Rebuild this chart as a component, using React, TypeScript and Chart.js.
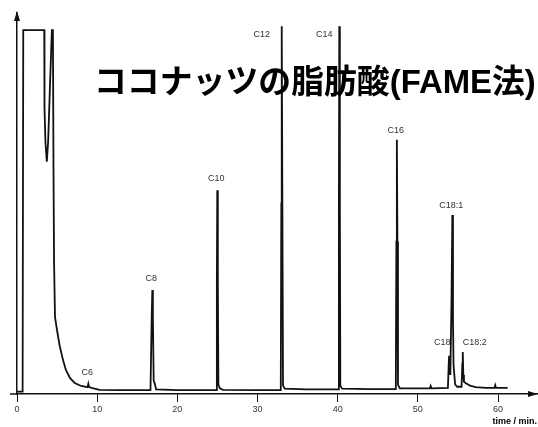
import React, { useEffect, useRef } from "react";
import { Chart, registerables } from "chart.js";

Chart.register(...registerables);

// Chromatogram trace (time in minutes, detector signal in % of full scale)
const TRACE_TIME = [
  0.0, 0.7, 0.78, 3.4, 3.43, 3.55, 3.72, 3.88, 4.1, 4.35, 4.48, 4.55, 4.62, 4.74, 4.99, 5.3, 5.74, 6.1, 6.6, 7.2,
  8.0, 8.8, 8.9, 9.0, 9.3, 10.3, 13.0, 16.65, 16.8, 16.88, 16.95, 17.05, 17.2, 17.35, 20.0, 24.85, 24.93, 24.98,
  25.05, 25.12, 25.3, 25.7, 30.0, 32.9, 32.97, 33.02, 33.1, 33.18, 33.4, 36.0, 40.08, 40.15, 40.2, 40.27, 40.33,
  40.55, 44.0, 47.25, 47.32, 47.38, 47.45, 47.52, 47.75, 51.5, 51.6, 51.7, 53.75, 53.85, 53.9, 53.97, 54.05, 54.2,
  54.3, 54.38, 54.45, 54.55, 54.65, 54.9, 55.45, 55.55, 55.6, 55.67, 55.75, 56.0, 56.5, 57.2, 58.5, 59.55, 59.65,
  59.75, 61.2,
];
const TRACE_SIGNAL = [
  0.6, 0.6, 95.5, 95.5, 75, 66, 61, 66, 80, 95.5, 95.5, 60, 35, 20.2, 16.8, 12.9, 8.9, 6.3, 4.2, 2.9,
  2.1, 1.8, 2.7, 1.8, 1.6, 1.1, 1.0, 1.0, 20, 27.3, 20, 3.5, 2.6, 1.2, 1.0, 1.0, 30, 53.5,
  30, 2.5, 1.5, 1.1, 1.0, 1.0, 50, 96.5, 50, 2.2, 1.4, 1.2, 1.2, 50, 96.5, 50, 2.2,
  1.4, 1.3, 1.3, 40, 66.7, 40, 2.4, 1.5, 1.5, 2.1, 1.5, 1.6, 8, 10, 6, 5, 25,
  47, 20, 7.6, 5, 2.5, 1.9, 1.9, 8, 11, 5, 3.2, 2.8, 2.2, 1.8, 1.6, 1.6, 2.3,
  1.6, 1.6,
];

// Peak annotations
const PEAK_NAMES = ["C6", "C8", "C10", "C12", "C14", "C16", "C18:1", "C18", "C18:2"];
const PEAK_TIMES = [8.9, 16.88, 24.98, 33.02, 40.2, 47.38, 54.3, 53.9, 55.6];
const PEAK_HEIGHTS = [2.7, 27.3, 53.5, 96.5, 96.5, 66.7, 47, 10, 11];

const X_TICKS = [0, 10, 20, 30, 40, 50, 60];
const X_MIN = 0;
const X_MAX = 64.86;
const Y_MIN = 0;
const Y_MAX = 100;

const TITLE = "ココナッツの脂肪酸(FAME法)";
const X_AXIS_TITLE = "time / min.";

// label pixel offsets from each peak top (style)
const LABEL_OFFSETS: [number, number][] = [
  [-1, -11], [-1, -11], [-1, -12], [-20, 8], [-15, 8], [-1, -9], [-1, -9], [-7, -13], [12, -10],
];

const INK = "#111";

const decorPlugin = {
  id: "decor",
  afterDraw(chart: any) {
    const ctx = chart.ctx as CanvasRenderingContext2D;
    const xs = chart.scales.x;
    const ys = chart.scales.y;
    const { left, right, top, bottom } = chart.chartArea;
    ctx.save();
    // axis extension to the left of origin
    ctx.strokeStyle = INK;
    ctx.lineWidth = 1.5;
    ctx.beginPath();
    ctx.moveTo(10, bottom);
    ctx.lineTo(left, bottom);
    ctx.stroke();
    // arrow heads
    ctx.fillStyle = INK;
    ctx.beginPath();
    ctx.moveTo(right + 1, bottom);
    ctx.lineTo(right - 9, bottom - 3);
    ctx.lineTo(right - 9, bottom + 3);
    ctx.closePath();
    ctx.fill();
    ctx.beginPath();
    ctx.moveTo(left, top - 2);
    ctx.lineTo(left - 3, top + 8);
    ctx.lineTo(left + 3, top + 8);
    ctx.closePath();
    ctx.fill();
    // peak labels
    ctx.font = '9px "Liberation Sans", Arial, sans-serif';
    ctx.fillStyle = "#333";
    ctx.textAlign = "center";
    ctx.textBaseline = "middle";
    PEAK_NAMES.forEach((name, i) => {
      const px = xs.getPixelForValue(PEAK_TIMES[i]);
      const py = ys.getPixelForValue(PEAK_HEIGHTS[i]);
      const [dx, dy] = LABEL_OFFSETS[i];
      ctx.fillText(name, px + dx, py + dy);
    });
    // title, fitted between x=95 and x=537
    const titleLeft = 95;
    const titleRight = 537;
    const family = '"Liberation Sans", "Noto Sans CJK JP", sans-serif';
    let size = 31;
    ctx.font = `bold ${size}px ${family}`;
    const w = ctx.measureText(TITLE).width;
    size = size * (titleRight - titleLeft) / w;
    ctx.font = `bold ${size}px ${family}`;
    ctx.fillStyle = "#000";
    ctx.textAlign = "left";
    ctx.textBaseline = "middle";
    ctx.fillText(TITLE, titleLeft - 1, 84);
    ctx.restore();
  },
};

export default function App() {
  const canvasRef = useRef<HTMLCanvasElement | null>(null);

  useEffect(() => {
    const canvas = canvasRef.current;
    if (!canvas) return;
    const points = TRACE_TIME.map((t, i) => ({ x: t, y: TRACE_SIGNAL[i] }));
    const chart = new Chart(canvas, {
      type: "line",
      data: {
        datasets: [
          {
            data: points,
            borderColor: INK,
            borderWidth: 1.8,
            pointRadius: 0,
            tension: 0,
            fill: false,
          },
        ],
      },
      options: {
        responsive: false,
        animation: false,
        devicePixelRatio: 1,
        layout: { padding: { left: 17, right: 1, top: 13, bottom: 0 } },
        plugins: {
          legend: { display: false },
          tooltip: { enabled: false },
          title: { display: false },
        },
        scales: {
          x: {
            type: "linear",
            min: X_MIN,
            max: X_MAX,
            position: "bottom",
            afterBuildTicks: (scale: any) => {
              scale.ticks = X_TICKS.map((v) => ({ value: v }));
            },
            afterFit: (scale: any) => {
              scale.height = 33;
            },
            border: { display: true, color: INK, width: 1.5 },
            grid: { display: true, drawOnChartArea: false, drawTicks: true, tickLength: 8, color: INK, lineWidth: 1 },
            ticks: {
              font: { size: 9, family: '"Liberation Sans", Arial, sans-serif' },
              color: "#333",
              padding: 2,
              maxRotation: 0,
              autoSkip: false,
            },
            title: {
              display: true,
              text: X_AXIS_TITLE,
              align: "end",
              color: "#000",
              font: { size: 9, weight: "bold", family: '"Liberation Sans", Arial, sans-serif' },
              padding: { top: 0, bottom: 0 },
            },
          },
          y: {
            type: "linear",
            min: Y_MIN,
            max: Y_MAX,
            afterFit: (scale: any) => {
              scale.width = 0;
            },
            border: { display: true, color: INK, width: 1.5 },
            grid: { display: false, drawTicks: false },
            ticks: { display: false },
          },
        },
      },
      plugins: [decorPlugin],
    } as any);
    return () => chart.destroy();
  }, []);

  return (
    <div style={{ position: "fixed", left: 0, top: 0, width: 538, height: 427, background: "#fff" }}>
      <canvas ref={canvasRef} width={538} height={427} style={{ display: "block" }} />
    </div>
  );
}
